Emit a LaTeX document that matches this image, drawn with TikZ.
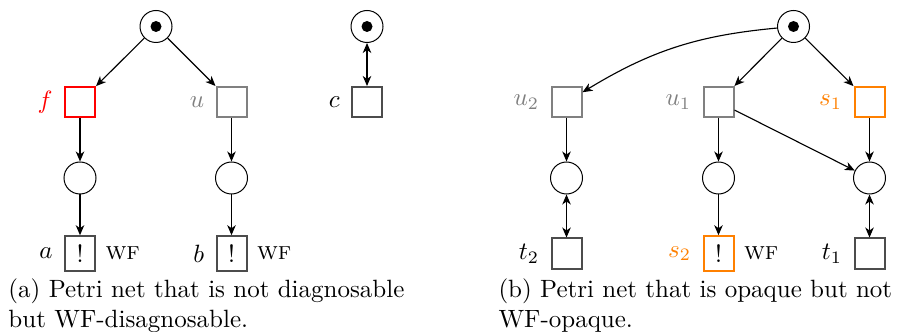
\documentclass[tikz,border=0pt]{standalone}
\usetikzlibrary{arrows.meta}
\definecolor{boxgray}{gray}{0.3}
\definecolor{ugray}{gray}{0.5}
\definecolor{sorange}{rgb}{1,0.5,0}
\tikzset{
  place/.style={circle,draw=black,line width=0.4pt,minimum size=12.8pt,inner sep=0pt},
  trans/.style={rectangle,draw=boxgray,line width=0.8pt,minimum size=12pt},
  token/.style={circle,fill=black,minimum size=4.4pt,inner sep=0pt},
  arcline/.style={line width=0.45pt,-{Stealth[length=4pt,width=3.4pt,inset=1.2pt]}},
  darcline/.style={line width=0.45pt,{Stealth[length=4pt,width=3.4pt,inset=1.2pt]}-{Stealth[length=4pt,width=3.4pt,inset=1.2pt]}},
  lab/.style={label distance=1pt},
  wflab/.style={label={[label distance=0.3pt]right:\textsc{wf}}},
  capnode/.style={anchor=base west,inner sep=0pt,text width=170pt,align=left}
}
\begin{document}
\begin{tikzpicture}[x=0.4pt,y=-0.4pt]
\useasboundingbox (0,0) rectangle (898,332);
% ---------- (a) ----------
\node[place] (pa) at (156,26.5) {};
\node[token] (ta) at (pa) {};
\node[trans,draw=red,label={[lab,text=red]left:$f$}] (f) at (80,102) {};
\node[trans,draw=ugray,label={[lab,text=ugray]left:$u$}] (u) at (231.5,102) {};
\node[place] (pf) at (80,178) {};
\node[place] (pu) at (231.5,178) {};
\node[trans,wflab,label={[lab]left:$a$}] (a) at (80,253.5) {!};
\node[trans,wflab,label={[lab]left:$b$}] (b) at (231.5,253.5) {!};
\node[place] (pc) at (367,26.5) {};
\node[token] (tc) at (pc) {};
\node[trans,label={[lab]left:$c$}] (c) at (367,102) {};
\draw[arcline] (pa) -- (f);
\draw[arcline] (pa) -- (u);
\draw[arcline] (f) -- (pf);
\draw[arcline] (u) -- (pu);
\draw[arcline] (pf) -- (a);
\draw[arcline] (pu) -- (b);
\draw[darcline] (pc) -- (c);
\node[capnode] (capa) at (8,297) {(a) Petri net that is not diagnosable\\but WF-disagnosable.};
% ---------- (b) ----------
\node[place] (pb) at (793.5,26.5) {};
\node[token] (tb) at (pb) {};
\node[trans,draw=ugray,label={[lab,text=ugray]left:$u_2$}] (u2) at (566.5,102) {};
\node[trans,draw=ugray,label={[lab,text=ugray]left:$u_1$}] (u1) at (718.5,102) {};
\node[trans,draw=sorange,label={[lab,text=sorange]left:$s_1$}] (s1) at (869.5,102) {};
\node[place] (q2) at (566.5,178) {};
\node[place] (q1) at (718.5,178) {};
\node[place] (q3) at (869.5,178) {};
\node[trans,label={[lab]left:$t_2$}] (t2) at (566.5,253.5) {};
\node[trans,draw=sorange,wflab,label={[lab,text=sorange]left:$s_2$}] (s2) at (718.5,253.5) {!};
\node[trans,label={[lab]left:$t_1$}] (t1) at (869.5,253.5) {};
\draw[arcline] (pb) to[bend right=13] (u2);
\draw[arcline] (pb) -- (u1);
\draw[arcline] (pb) -- (s1);
\draw[arcline] (u2) -- (q2);
\draw[arcline] (u1) -- (q1);
\draw[arcline] (u1) -- (q3);
\draw[arcline] (s1) -- (q3);
\draw[darcline] (q2) -- (t2);
\draw[arcline] (q1) -- (s2);
\draw[darcline] (q3) -- (t1);
\node[capnode] (capb) at (498,297) {(b) Petri net that is opaque but not\\WF-opaque.};
\end{tikzpicture}
\end{document}
